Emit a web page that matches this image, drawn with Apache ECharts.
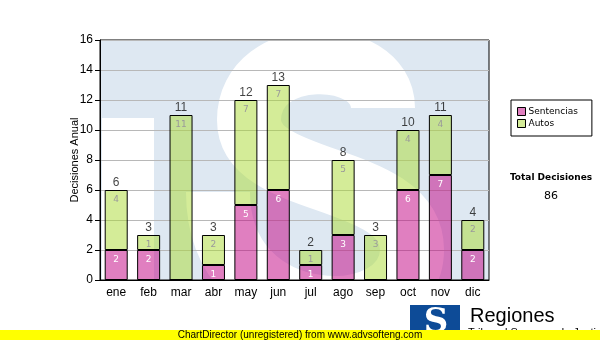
<!DOCTYPE html>
<html>
<head>
<meta charset="utf-8">
<script src="https://cdn.jsdelivr.net/npm/echarts@6/dist/echarts.min.js"></script>
<style>
  html, body { margin: 0; padding: 0; background: #fff; }
  #chart { width: 600px; height: 340px; }
</style>
</head>
<body>
<div id="chart"></div>
<script>
// Monthly decisions, split by type
const months = ['ene', 'feb', 'mar', 'abr', 'may', 'jun', 'jul', 'ago', 'sep', 'oct', 'nov', 'dic'];
const sentencias = [2, 2, 0, 1, 5, 6, 1, 3, 0, 6, 7, 2];
const autos = [4, 1, 11, 2, 7, 7, 1, 5, 3, 4, 4, 2];
const yTicks = [0, 2, 4, 6, 8, 10, 12, 14, 16];

const totals = months.map((m, i) => sentencias[i] + autos[i]);
const grandTotal = totals.reduce((a, b) => a + b, 0);

const FONT = '"Liberation Sans", Arial, sans-serif';
const UI_FONT = '"DejaVu Sans", Verdana, sans-serif';

// plot rectangle
const P = { left: 100, top: 40, width: 389, height: 240 };

// watermark "S": three cubic segments stroked in white
const sCurve = [
  [383, 108, 383, 46, 249, 44, 249, 120],
  [249, 120, 249, 188, 412, 172, 412, 250],
  [412, 250, 412, 335, 218, 335, 218, 192]
];
const sStrokes = sCurve.map(c => ({
  type: 'bezierCurve', z: -9,
  shape: { x1: c[0], y1: c[1], cpx1: c[2], cpy1: c[3], cpx2: c[4], cpy2: c[5], x2: c[6], y2: c[7] },
  style: { fill: null, stroke: '#ffffff', lineWidth: 64, lineCap: 'butt' }
}));

const chart = echarts.init(document.getElementById('chart'), null, { renderer: 'canvas' });

chart.setOption({
  animation: false,
  backgroundColor: '#ffffff',
  textStyle: { fontFamily: FONT },
  grid: {
    left: P.left, top: P.top, width: P.width, height: P.height,
    show: true, backgroundColor: 'transparent', borderColor: '#000', borderWidth: 1
  },
  legend: {
    left: 511, top: 100, orient: 'vertical',
    data: ['Sentencias', 'Autos'],
    icon: 'rect', itemWidth: 8, itemHeight: 8, itemGap: 3,
    padding: [7, 14, 8, 6],
    backgroundColor: '#fff', borderColor: '#000', borderWidth: 1,
    textStyle: { fontFamily: UI_FONT, fontSize: 9, color: '#000', padding: [0, 0, 0, -2] },
    itemStyle: { borderColor: '#000', borderWidth: 1 }
  },
  xAxis: {
    type: 'category', data: months,
    axisLine: { lineStyle: { color: '#000', width: 1 } },
    axisTick: { alignWithLabel: true, length: 4, lineStyle: { color: '#000' } },
    axisLabel: { color: '#000', fontSize: 12, margin: 7, fontFamily: FONT }
  },
  yAxis: {
    type: 'value', min: yTicks[0], max: yTicks[yTicks.length - 1], interval: 2,
    name: 'Decisiones Anual', nameLocation: 'middle', nameGap: 20, nameRotate: 90,
    nameMoveOverlap: false,
    nameTextStyle: { color: '#000', fontSize: 11, fontFamily: FONT },
    axisLine: { show: true, lineStyle: { color: '#000', width: 1 } },
    axisTick: { show: true, length: 5, lineStyle: { color: '#000' } },
    axisLabel: { color: '#000', fontSize: 12, margin: 7, fontFamily: FONT },
    splitLine: { lineStyle: { color: '#b8b8b8', width: 1 } }
  },
  series: [
    {
      name: 'Sentencias', type: 'bar', stack: 'd', data: sentencias, barWidth: 23,
      itemStyle: { color: 'rgba(193,0,129,0.5)', borderColor: '#000', borderWidth: 1 },
      label: {
        show: true, position: 'insideTop', distance: 5, color: '#fff', fontSize: 9,
        fontFamily: UI_FONT, formatter: p => (p.value ? String(p.value) : '')
      },
      z: 3
    },
    {
      name: 'Autos', type: 'bar', stack: 'd', data: autos, barWidth: 23,
      itemStyle: { color: 'rgba(170,217,50,0.5)', borderColor: '#000', borderWidth: 1 },
      label: {
        show: true, position: 'insideTop', distance: 5, color: '#9a9a9a', fontSize: 9,
        fontFamily: UI_FONT, formatter: p => (p.value ? String(p.value) : '')
      },
      z: 3
    },
    {
      name: 'Total', type: 'scatter', data: totals, symbolSize: 0,
      label: {
        show: true, position: 'top', distance: 1, color: '#111', fontSize: 12,
        fontFamily: FONT, formatter: p => String(p.value)
      },
      z: 4
    }
  ],
  graphic: [
    // plot background and watermark
    { type: 'rect', z: -10, shape: { x: P.left, y: P.top, width: P.width, height: P.height },
      style: { fill: '#dee8f2' } },
    { type: 'rect', z: -9, shape: { x: 102, y: 118, width: 52, height: 162 },
      style: { fill: '#ffffff' } },
    ...sStrokes,

    // totals block
    { type: 'text', z: 10, x: 551, y: 178,
      style: { text: 'Total Decisiones', fill: '#000', font: 'bold 9px ' + UI_FONT, textAlign: 'center', textVerticalAlign: 'middle' } },
    { type: 'text', z: 10, x: 551, y: 196,
      style: { text: String(grandTotal), fill: '#000', font: '11px ' + UI_FONT, textAlign: 'center', textVerticalAlign: 'middle' } },

    // footer logo
    { type: 'rect', z: 10, shape: { x: 410, y: 305, width: 50, height: 30 }, style: { fill: '#0d4b97' } },
    { type: 'text', z: 11, x: 436, y: 323,
      style: { text: 'S', fill: '#fff', font: 'bold 34px "DejaVu Serif", serif', textAlign: 'center', textVerticalAlign: 'middle' } },
    { type: 'text', z: 10, x: 470, y: 316,
      style: { text: 'Regiones', fill: '#000', font: '20px ' + FONT, textAlign: 'left', textVerticalAlign: 'middle' } },
    { type: 'text', z: 10, x: 468, y: 327,
      style: { text: 'Tribunal Supremo de Justicia', fill: '#000', font: '11px ' + FONT, textAlign: 'left', textVerticalAlign: 'top' } },

    // footer band
    { type: 'rect', z: 20, shape: { x: 0, y: 330, width: 600, height: 10 }, style: { fill: '#ffff00' } },
    { type: 'text', z: 21, x: 300, y: 335,
      style: { text: 'ChartDirector (unregistered) from www.advsofteng.com', fill: '#000', font: '10px ' + FONT, textAlign: 'center', textVerticalAlign: 'middle' } }
  ]
});
</script>
</body>
</html>
